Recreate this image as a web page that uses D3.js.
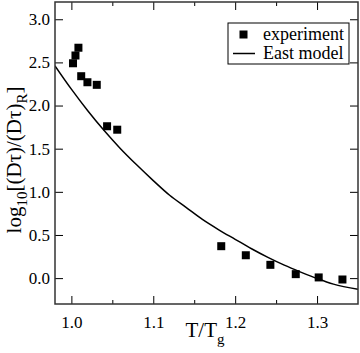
<!DOCTYPE html>
<html><head><meta charset="utf-8">
<script src="https://cdn.jsdelivr.net/npm/d3@7"></script>
<style>body{margin:0;background:#fff}svg{display:block}text{font-family:"Liberation Serif","Times New Roman",serif;fill:#000}</style>
</head><body><svg id="c" width="360" height="353"></svg>
<script>
const expT = [1.002,1.005,1.0086,1.012,1.0196,1.031,1.0436,1.056,1.183,1.213,1.243,1.274,1.302,1.331];
const expV = [2.49,2.58,2.67,2.34,2.27,2.24,1.76,1.72,0.37,0.265,0.154,0.046,0.008,-0.016];
const modelT = [0.98,1.00,1.02,1.04,1.06,1.08,1.10,1.12,1.14,1.16,1.18,1.20,1.22,1.24,1.26,1.28,1.30,1.32,1.35];
const modelV = [2.46,2.19,1.94,1.71,1.50,1.31,1.13,0.96,0.82,0.68,0.56,0.45,0.34,0.24,0.15,0.07,-0.005,-0.07,-0.13];
const xTicks = [1.0,1.1,1.2,1.3];
const xMinor = [1.05,1.15,1.25];
const yTicks = [0.0,0.5,1.0,1.5,2.0,2.5,3.0];
const legendLabels = ["experiment","East model"];

const svg = d3.select("#c");
const L=55,R=358,T=2,B=304;
const x = d3.scaleLinear().domain([0.98,1.35]).range([L,R]);
const y = d3.scaleLinear().domain([-0.3,3.2]).range([B,T]);
const g = svg.append("g");
svg.append("clipPath").attr("id","cp").append("rect").attr("x",L).attr("y",T).attr("width",R-L).attr("height",B-T);

// model line
const line = d3.line().x(d=>x(d[0])).y(d=>y(d[1])).curve(d3.curveMonotoneX);
g.append("path").datum(modelT.map((t,i)=>[t,modelV[i]])).attr("d",line)
 .attr("fill","none").attr("stroke","#000").attr("stroke-width",1.5).attr("clip-path","url(#cp)");
// points
g.selectAll("rect.p").data(expT.map((t,i)=>[t,expV[i]])).enter().append("rect")
 .attr("x",d=>x(d[0])-4).attr("y",d=>y(d[1])-4).attr("width",8).attr("height",8).attr("fill","#000");

// axes with inward ticks
function fmt(v){return v.toFixed(1);}
const axB = d3.axisBottom(x).tickValues(xTicks).tickSizeInner(-8).tickSizeOuter(0).tickPadding(12).tickFormat(fmt);
const axBm = d3.axisBottom(x).tickValues(xMinor).tickSizeInner(-4).tickSizeOuter(0).tickFormat("");
const axT = d3.axisTop(x).tickValues(xTicks).tickSizeInner(-8).tickSizeOuter(0).tickFormat("");
const axTm = d3.axisTop(x).tickValues(xMinor).tickSizeInner(-4).tickSizeOuter(0).tickFormat("");
const axL = d3.axisLeft(y).tickValues(yTicks).tickSizeInner(-8).tickSizeOuter(0).tickPadding(5).tickFormat(fmt);
const axRt = d3.axisRight(y).tickValues(yTicks).tickSizeInner(-8).tickSizeOuter(0).tickFormat("");
[[axB,`translate(0,${B})`],[axBm,`translate(0,${B})`],[axT,`translate(0,${T})`],[axTm,`translate(0,${T})`],[axL,`translate(${L},0)`],[axRt,`translate(${R},0)`]].forEach(([a,tr])=>{
  const s=svg.append("g").attr("transform",tr).call(a);
  s.select(".domain").remove();
  s.selectAll("line").attr("stroke","#000").attr("stroke-width",1);
  s.selectAll("text").style("font-size","17px").attr("fill","#000");
});
svg.append("rect").attr("x",L).attr("y",T).attr("width",R-L).attr("height",B-T)
 .attr("fill","none").attr("stroke","#333").attr("stroke-width",1.5);

// axis titles
const xt = svg.append("text").attr("x",205).attr("y",337).attr("text-anchor","middle").style("font-size","21px");
xt.append("tspan").text("T/T");
xt.append("tspan").attr("dy",7).style("font-size","15px").text("g");
const yt = svg.append("text").attr("transform","translate(21,160) rotate(-90)").attr("text-anchor","middle").style("font-size","21px");
yt.append("tspan").text("log");
yt.append("tspan").attr("dy",6).style("font-size","15px").text("10");
yt.append("tspan").attr("dy",-6).text("[(Dτ)/(Dτ)");
yt.append("tspan").attr("dy",6).style("font-size","15px").text("R");
yt.append("tspan").attr("dy",-6).text("]");

// legend
const lg = svg.append("g");
lg.append("rect").attr("x",228).attr("y",23).attr("width",121).attr("height",41).attr("fill","#fff").attr("stroke","#000").attr("stroke-width",1);
lg.append("rect").attr("x",239.5).attr("y",30.5).attr("width",8).attr("height",8).attr("fill","#000");
lg.append("line").attr("x1",233).attr("x2",255).attr("y1",53.5).attr("y2",53.5).attr("stroke","#000").attr("stroke-width",1.5);
lg.selectAll("text.l").data(legendLabels).enter().append("text").attr("x",263).attr("y",(d,i)=>40+i*19).style("font-size","18px").text(d=>d);
</script></body></html>
